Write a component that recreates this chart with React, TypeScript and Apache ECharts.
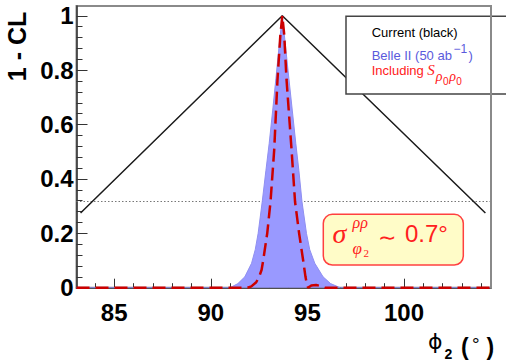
import React, { useEffect, useRef } from "react";
import * as echarts from "echarts";

// ---- data ----
const xMin = 83.05;
const xMax = 104.5;
const yMin = 0;
const yMax = 1.036;
const xMajorTicks = [85, 90, 95, 100];
const xMinorTicks = [84, 86, 87, 88, 89, 91, 92, 93, 94, 96, 97, 98, 99, 101, 102, 103, 104];
const yMajorTicks = [0, 0.2, 0.4, 0.6, 0.8, 1];
const yMinorTicks = [0.04, 0.08, 0.12, 0.16, 0.24, 0.28, 0.32, 0.36, 0.44, 0.48, 0.52, 0.56, 0.64, 0.68, 0.72, 0.76, 0.84, 0.88, 0.92, 0.96];
const sigmaLevel = 0.317;

const currentPhi = [83.26, 93.7, 104.21];
const currentCL = [0.275, 1.0, 0.275];

const bellePhi = [83.05, 91.0, 91.4, 91.76, 92.11, 92.3, 92.45, 92.66, 92.85, 93.02, 93.2, 93.37, 93.55, 93.7, 93.85, 94.04, 94.22, 94.4, 94.56, 94.72, 94.95, 95.12, 95.38, 95.81, 96.2, 96.7, 104.5];
const belleCL = [0, 0, 0.015, 0.04, 0.09, 0.14, 0.2, 0.316, 0.43, 0.53, 0.65, 0.77, 0.9, 1.0, 0.9, 0.77, 0.65, 0.53, 0.43, 0.316, 0.2, 0.14, 0.09, 0.04, 0.015, 0, 0];

const inclPhi = [83.05, 91.9, 92.1, 92.35, 92.5, 92.63, 92.71, 92.92, 93.09, 93.28, 93.45, 93.6, 93.7, 93.8, 93.92, 94.18, 94.36, 94.57, 94.78, 94.9, 94.98, 95.04, 95.2, 95.45, 95.7, 95.9, 104.5];
const inclCL = [0, 0, 0.005, 0.02, 0.04, 0.066, 0.1, 0.2, 0.316, 0.506, 0.764, 0.93, 1.0, 0.93, 0.764, 0.506, 0.316, 0.2, 0.1, 0.04, 0.01, 0, 0.008, 0.01, 0.006, 0, 0];

const zip = (xs: number[], ys: number[]) => xs.map((x, i) => [x, ys[i]]);

const SANS = '"Liberation Sans", Arial, sans-serif';
const SERIF = '"Liberation Serif", "DejaVu Serif", serif';

let measureCtx: CanvasRenderingContext2D | null = null;
function measure(text: string, font: string): number {
  if (!measureCtx) measureCtx = document.createElement("canvas").getContext("2d");
  measureCtx!.font = font;
  return measureCtx!.measureText(text).width;
}

function txt(text: string, x: number, y: number, font: string, fill: string, extra: any = {}) {
  return {
    type: "text",
    x,
    y,
    z: 11,
    ...extra,
    style: { text, font, fill, align: extra.align || "left", verticalAlign: "middle" },
  };
}

function buildGraphics() {
  const g: any[] = [];
  // legend box
  g.push({
    type: "rect",
    z: 10,
    shape: { x: 346, y: 16.3, width: 175, height: 77.7 },
    style: { fill: "#ffffff", stroke: "#444", lineWidth: 1.5 },
  });
  const lf = `13px ${SANS}`;
  const lx = 371.7;
  g.push(txt("Current (black)", lx, 32.8, lf, "#000"));
  const blue = "#5a5adc";
  const b1 = "Belle II (50 ab";
  g.push(txt(b1, lx, 55.5, lf, blue));
  let bx = lx + measure(b1, lf) + 1.5;
  const supF = `12px ${SANS}`;
  g.push(txt("\u22121", bx, 49, supF, blue));
  bx += measure("\u22121", supF) + 1.5;
  g.push(txt(")", bx, 55.5, lf, blue));
  const red = "#ff2020";
  const i1 = "Including ";
  g.push(txt(i1, lx, 70.5, lf, red));
  let ix = lx + measure(i1, lf);
  const sF = `italic 15px ${SERIF}`;
  g.push(txt("S", ix, 69.5, sF, red));
  ix += measure("S", sF) + 1;
  const rF = `italic 14px ${SERIF}`;
  const zF = `10px ${SANS}`;
  for (let k = 0; k < 2; k++) {
    g.push(txt("\u03c1", ix, 76.5, rF, red));
    ix += measure("\u03c1", rF) + 0.5;
    g.push(txt("0", ix, 81, zF, red));
    ix += measure("0", zF) + 0.5;
  }

  // annotation box
  g.push({
    type: "rect",
    z: 10,
    shape: { x: 323.3, y: 214.3, width: 140, height: 50.7, r: 9 },
    style: { fill: "#fffcc8", stroke: "#ff4040", lineWidth: 1.5 },
  });
  g.push(txt("\u03c3", 332.5, 233, `italic 28px ${SERIF}`, red));
  g.push(txt("\u03c1\u03c1", 352.5, 222, `italic 16px ${SERIF}`, red));
  g.push(txt("\u03c6", 352.5, 248, `italic 17px ${SERIF}`, red));
  g.push(txt("2", 363.5, 253, `11px ${SERIF}`, red));
  g.push(txt("\u223c", 387, 237, `22px ${SANS}`, red, { align: "center" }));
  g.push(txt("0.7\u00b0", 405, 233.5, `24px ${SANS}`, red));

  // y-axis title
  g.push({
    type: "text",
    x: 16.5,
    y: 46.5,
    rotation: Math.PI / 2,
    z: 11,
    style: { text: "1 - CL", font: `bold 25px ${SANS}`, fill: "#000", align: "center", verticalAlign: "middle" },
  });

  // x-axis title
  g.push(txt("\u03d5", 428, 341.5, `22px "DejaVu Sans", sans-serif`, "#000"));
  g.push(txt("2", 444.5, 354, `bold 14px ${SANS}`, "#000"));
  g.push(txt("(", 461, 347, `bold 23px ${SANS}`, "#000"));
  g.push(txt("\u00b0", 472, 344, `19px ${SANS}`, "#000"));
  g.push(txt(")", 486.5, 347, `bold 23px ${SANS}`, "#000"));
  return g;
}

function buildOption(): any {
  const axisColor = "#333";
  const labelStyle = { fontFamily: SANS, fontWeight: "bold", fontSize: 24, color: "#000" };
  return {
    animation: false,
    backgroundColor: "#fff",
    grid: {
      left: 76.5,
      top: 6,
      right: 15,
      bottom: 75.3,
      show: true,
      borderColor: "#8a8a8a",
      borderWidth: 2,
      backgroundColor: "transparent",
      containLabel: false,
      outerBoundsMode: "none",
    },
    xAxis: [
      {
        type: "value",
        min: xMin,
        max: xMax,
        position: "bottom",
        axisLine: { show: true, onZero: false, lineStyle: { color: axisColor, width: 1.5 } },
        axisTick: { show: true, inside: true, length: 9, customValues: xMajorTicks, lineStyle: { color: axisColor, width: 1 } },
        axisLabel: { show: true, customValues: xMajorTicks, margin: 13, ...labelStyle, formatter: (v: number) => String(v) },
        splitLine: { show: false },
      },
      {
        type: "value",
        min: xMin,
        max: xMax,
        position: "bottom",
        axisLine: { show: false, onZero: false },
        axisTick: { show: true, inside: true, length: 4.5, customValues: xMinorTicks, lineStyle: { color: axisColor, width: 1 } },
        axisLabel: { show: false },
        splitLine: { show: false },
      },
    ],
    yAxis: [
      {
        type: "value",
        min: yMin,
        max: yMax,
        position: "left",
        axisLine: { show: true, onZero: false, lineStyle: { color: axisColor, width: 1.5 } },
        axisTick: { show: true, inside: true, length: 11, customValues: yMajorTicks, lineStyle: { color: axisColor, width: 1 } },
        axisLabel: { show: true, customValues: yMajorTicks, margin: 3, ...labelStyle, formatter: (v: number) => String(v) },
        splitLine: { show: false },
      },
      {
        type: "value",
        min: yMin,
        max: yMax,
        position: "left",
        axisLine: { show: false, onZero: false },
        axisTick: { show: true, inside: true, length: 6, customValues: yMinorTicks, lineStyle: { color: axisColor, width: 1 } },
        axisLabel: { show: false },
        splitLine: { show: false },
      },
      {
        type: "value",
        min: yMin,
        max: yMax,
        position: "right",
        z: 20,
        axisLine: { show: true, onZero: false, lineStyle: { color: "#8a8a8a", width: 2 } },
        axisTick: { show: false },
        axisLabel: { show: false },
        splitLine: { show: false },
      },
    ],
    series: [
      {
        type: "line",
        z: 1,
        silent: true,
        symbol: "none",
        data: [[xMin, sigmaLevel], [xMax, sigmaLevel]],
        lineStyle: { color: "#777", width: 1, type: [1.5, 2] },
      },
      {
        type: "line",
        z: 2,
        symbol: "none",
        data: zip(bellePhi, belleCL),
        lineStyle: { color: "#8f8ff0", width: 1 },
        areaStyle: { color: "#9999ff", opacity: 1 },
      },
      {
        type: "line",
        z: 3,
        symbol: "none",
        data: zip(currentPhi, currentCL),
        lineStyle: { color: "#1a1a1a", width: 1.5 },
      },
      {
        type: "line",
        z: 4,
        symbol: "none",
        data: zip(inclPhi, inclCL),
        lineStyle: { color: "#cc0000", width: 2.5, type: [13, 6] },
      },
    ],
    graphic: buildGraphics(),
  };
}

export default function App() {
  const ref = useRef<HTMLDivElement>(null);
  useEffect(() => {
    const chart = echarts.init(ref.current!, null, { renderer: "svg" });
    chart.setOption(buildOption());
    return () => chart.dispose();
  }, []);
  return (
    <div
      ref={ref}
      style={{ position: "fixed", left: 0, top: 0, width: 506, height: 363, background: "#fff" }}
    />
  );
}
